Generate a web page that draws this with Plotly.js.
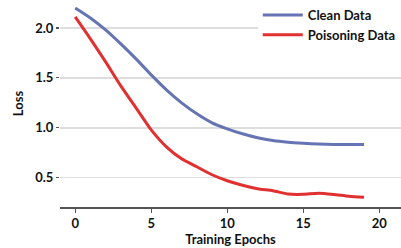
<!DOCTYPE html>
<html>
<head>
<meta charset="utf-8">
<script src="https://cdn.plot.ly/plotly-3.0.1.min.js"></script>
<style>html,body{margin:0;padding:0;background:#fff;}#chart{width:401px;height:248px;}</style>
</head>
<body>
<div id="chart"></div>
<script>
const epochs = [0,1,2,3,4,5,6,7,8,9,10,11,12,13,14,15,16,17,18,19];
const cleanLoss = [2.20,2.10,1.98,1.84,1.69,1.53,1.38,1.25,1.14,1.05,0.99,0.94,0.90,0.872,0.855,0.845,0.838,0.834,0.833,0.833];
const poisonLoss = [2.11,1.89,1.66,1.42,1.20,0.98,0.81,0.69,0.61,0.53,0.47,0.425,0.39,0.37,0.337,0.334,0.345,0.333,0.315,0.305];
const seriesNames = ["Clean Data","Poisoning Data"];
const xTicks = [0,5,10,15,20];
const yTicks = [0.5,1.0,1.5,2.0];
const yTickText = ["0.5","1.0","1.5","2.0"];

const font = "Lato, 'Noto Sans', sans-serif";
const txt = {family: font, size: 13, color: "#111", weight: "bold"};
const traces = [
  {x: epochs, y: cleanLoss, name: seriesNames[0], type: "scatter", mode: "lines",
   line: {color: "#6674b3", width: 3, shape: "spline", smoothing: 0.6}},
  {x: epochs, y: poisonLoss, name: seriesNames[1], type: "scatter", mode: "lines",
   line: {color: "#e0302f", width: 3, shape: "spline", smoothing: 0.6}}
];
const layout = {
  width: 401, height: 248,
  margin: {l: 60, r: 0, t: 0, b: 41},
  paper_bgcolor: "#fff", plot_bgcolor: "#fff",
  font: txt,
  showlegend: true,
  legend: {x: 0.58, y: 1.0, xanchor: "left", yanchor: "top", bgcolor: "#fff",
           font: txt, itemwidth: 40, tracegroupgap: 0},
  xaxis: {range: [-1.0, 21.43], tickvals: xTicks, ticktext: xTicks.map(String),
          showgrid: false, zeroline: false, showline: true, linecolor: "#555", linewidth: 1.5,
          ticks: "outside", ticklen: 4, tickcolor: "#555", tickwidth: 1.2,
          tickfont: txt,
          title: {text: "Training Epochs", standoff: 4, font: txt}},
  yaxis: {range: [0.207, 2.28], tickvals: yTicks, ticktext: yTickText,
          showgrid: true, gridcolor: "#dddddd", gridwidth: 1.5, zeroline: false, showline: false,
          ticks: "outside", ticklen: 3, tickcolor: "#555", tickwidth: 1.2,
          tickfont: txt,
          title: {text: "Loss", standoff: 8, font: txt}}
};
Plotly.newPlot("chart", traces, layout, {displayModeBar: false, staticPlot: true});
</script>
</body>
</html>
